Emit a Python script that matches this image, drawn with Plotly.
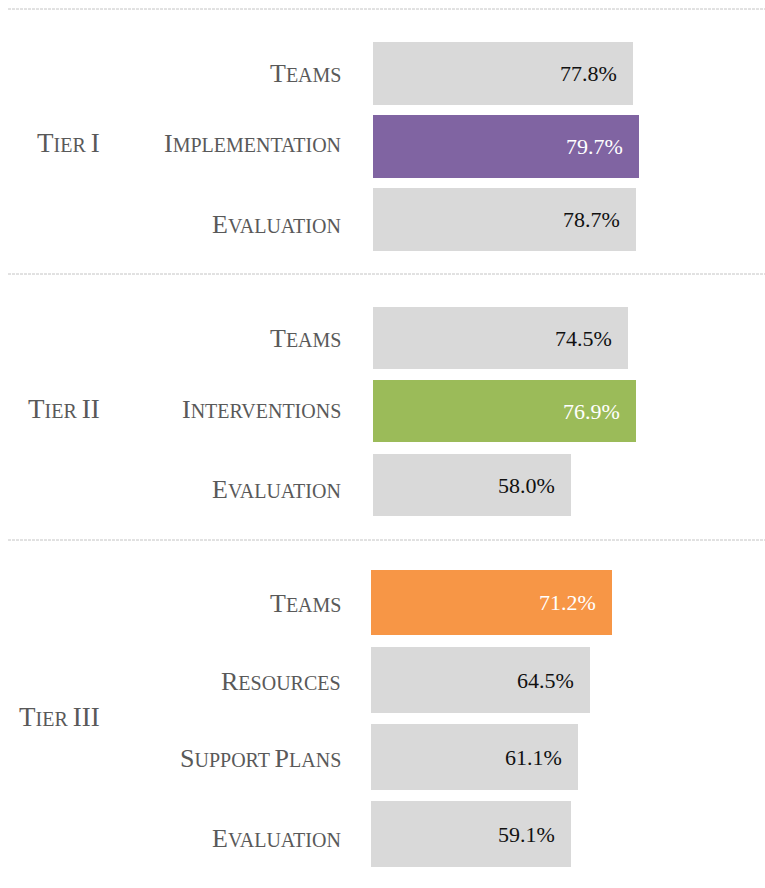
import plotly.graph_objects as go

W, H = 765, 888

tiers = ["Tier I", "Tier II", "Tier III"]
tier1_cats = ["Teams", "Implementation", "Evaluation"]
tier1_vals = [77.8, 79.7, 78.7]
tier2_cats = ["Teams", "Interventions", "Evaluation"]
tier2_vals = [74.5, 76.9, 58.0]
tier3_cats = ["Teams", "Resources", "Support Plans", "Evaluation"]
tier3_vals = [71.2, 64.5, 61.1, 59.1]
highlight_idx = [1, 1, 0]
highlight_colors = ["#8064a2", "#9bbb59", "#f79646"]
gray = "#d9d9d9"

# layout (pixel geometry) per panel
panels = [
    (tier1_cats, tier1_vals, (36.5, 255.5), (373, 707), [0, 3, -5], 3),
    (tier2_cats, tier2_vals, (301.25, 521.75), (373, 715), [0, 2, -4], 3),
    (tier3_cats, tier3_vals, (564.4, 873.1), (371, 710), [-1, -1, -1, -4], 2),
]

FONT = "Liberation Serif"
LBL = "#595959"


def smallcaps(s, big=26, small=20):
    out = []
    for word in s.split(" "):
        if word.isupper():
            out.append(f"<span style='font-size:{big}px'>{word}</span>")
            continue
        first, rest = word[0], word[1:]
        piece = f"<span style='font-size:{big}px'>{first.upper()}</span>"
        if rest:
            piece += f"<span style='font-size:{small}px'>{rest.upper()}</span>"
        out.append(piece)
    return " ".join(out)


fig = go.Figure()
annotations = []
layout_axes = {}
for i, (cats, vals, (ytop, ybot), (xl, xr), lshift, tshift) in enumerate(panels):
    n = i + 1
    xa = "x" if n == 1 else f"x{n}"
    ya = "y" if n == 1 else f"y{n}"
    colors = [highlight_colors[i] if j == highlight_idx[i] else gray for j in range(len(cats))]
    fig.add_trace(go.Bar(
        x=vals, y=cats, orientation="h", marker=dict(color=colors, line=dict(width=0)),
        width=0.85, xaxis=xa, yaxis=ya, showlegend=False, hoverinfo="skip",
    ))
    layout_axes["xaxis" if n == 1 else f"xaxis{n}"] = dict(
        domain=[xl / W, xr / W], range=[0, 100], visible=False, anchor=ya, fixedrange=True,
    )
    layout_axes["yaxis" if n == 1 else f"yaxis{n}"] = dict(
        domain=[1 - ybot / H, 1 - ytop / H], range=[len(cats) - 0.5, -0.5],
        visible=False, anchor=xa, type="category", fixedrange=True,
    )
    for j, (c, v) in enumerate(zip(cats, vals)):
        annotations.append(dict(
            x=v, y=c, xref=xa, yref=ya, text=f"{v:.1f}%", showarrow=False,
            xanchor="right", yanchor="middle", xshift=-14,
            font=dict(family=FONT, size=22, color="white" if j == highlight_idx[i] else "#111111"),
        ))
        annotations.append(dict(
            x=343 / W, y=c, xref="paper", yref=ya, text=smallcaps(c), showarrow=False,
            xanchor="right", yanchor="middle", yshift=lshift[j],
            font=dict(family=FONT, size=20, color=LBL),
        ))
    mid = (ytop + ybot) / 2
    annotations.append(dict(
        x=102 / W, y=1 - mid / H, xref="paper", yref="paper", text=smallcaps(tiers[i], 27, 20),
        showarrow=False, xanchor="right", yanchor="middle", yshift=tshift,
        font=dict(family=FONT, size=20, color=LBL),
    ))

shapes = []
for yy in [9, 274, 540]:
    shapes.append(dict(
        type="line", xref="paper", yref="paper", x0=8 / W, x1=1, y0=1 - yy / H, y1=1 - yy / H,
        line=dict(color="#c4c4c4", width=1, dash="3px,1px"),
    ))

fig.update_layout(
    width=W, height=H, margin=dict(l=0, r=0, t=0, b=0),
    paper_bgcolor="white", plot_bgcolor="white",
    annotations=annotations, shapes=shapes, bargap=0,
    **layout_axes,
)

fig.write_html("out.html")
